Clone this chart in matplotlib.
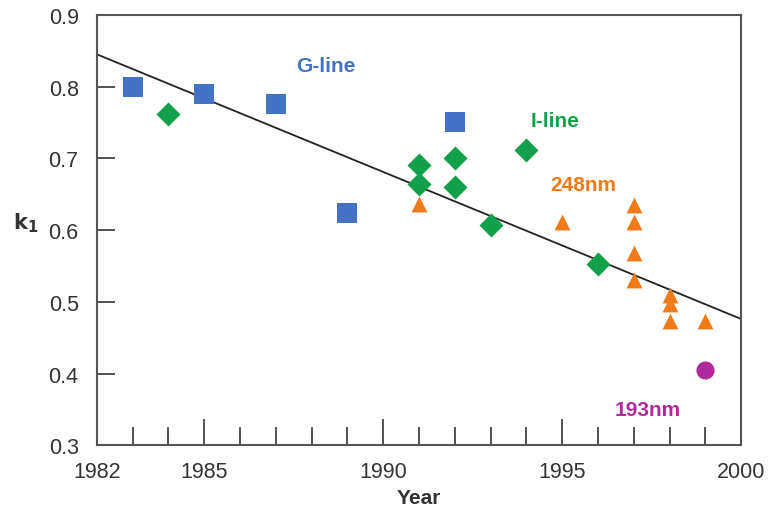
import numpy as np
import matplotlib
matplotlib.use("Agg")
import matplotlib.pyplot as plt
from matplotlib.ticker import MultipleLocator, FixedLocator, FormatStrFormatter

plt.rcParams['font.family'] = ['Liberation Sans', 'DejaVu Sans']

# data
gline_year = [1983, 1985, 1987, 1989, 1992]
gline_k1 = [0.800, 0.790, 0.776, 0.624, 0.751]

iline_year = [1984, 1991, 1991, 1992, 1992, 1993, 1994, 1996]
iline_k1 = [0.762, 0.690, 0.664, 0.701, 0.660, 0.607, 0.711, 0.552]

nm248_year = [1991, 1995, 1997, 1997, 1997, 1997, 1998, 1998, 1998, 1999]
nm248_k1 = [0.636, 0.611, 0.635, 0.611, 0.568, 0.530, 0.510, 0.497, 0.473, 0.473]

nm193_year = [1999]
nm193_k1 = [0.405]

trend_year = [1982, 2000]
trend_k1 = [0.845, 0.476]

blue = '#4472c4'
green = '#13a04a'
orange = '#f07a17'
magenta = '#b02a9e'

fig = plt.figure(figsize=(7.68, 5.10), dpi=100)
ax = fig.add_axes([0.126, 0.125, 0.839, 0.844])

ax.plot(trend_year, trend_k1, color='#222222', lw=1.3, zorder=2)
ax.scatter(gline_year, gline_k1, marker='s', s=190, color=blue, zorder=3, linewidths=0)
ax.scatter(iline_year, iline_k1, marker='D', s=150, color=green, zorder=3, linewidths=0)
ax.scatter(nm248_year, nm248_k1, marker='^', s=130, color=orange, zorder=3, linewidths=0)
ax.scatter(nm193_year, nm193_k1, marker='o', s=170, color=magenta, zorder=3, linewidths=0)

lab = dict(fontsize=15, fontweight='bold', ha='center', va='center')
ax.text(1988.4, 0.83, 'G-line', color=blue, **lab)
ax.text(1994.8, 0.753, 'I-line', color=green, **lab)
ax.text(1995.6, 0.663, '248nm', color=orange, **lab)
ax.text(1997.4, 0.35, '193nm', color=magenta, **lab)

ax.set_xlim(1982, 2000)
ax.set_ylim(0.3, 0.9)
ax.xaxis.set_major_locator(FixedLocator([1982, 1985, 1990, 1995, 2000]))
ax.xaxis.set_minor_locator(MultipleLocator(1))
ax.yaxis.set_major_locator(FixedLocator([0.3, 0.4, 0.5, 0.6, 0.7, 0.8, 0.9]))
ax.yaxis.set_major_formatter(FormatStrFormatter('%.1f'))

for s in ax.spines.values():
    s.set_color('#555555')
    s.set_linewidth(1.5)

ax.tick_params(axis='x', which='major', direction='in', length=19, width=1.2,
               color='#333333', labelsize=15.5, pad=11, labelcolor='#333333')
ax.tick_params(axis='x', which='minor', direction='in', length=13, width=1.2, color='#333333')
ax.tick_params(axis='y', which='major', direction='in', length=13, width=1.2,
               color='#333333', labelsize=15.5, pad=13, labelcolor='#333333')

ax.set_xlabel('Year', fontsize=15, fontweight='bold', color='#333333', labelpad=5)
ax.set_ylabel(r'$\mathbf{k_1}$', fontsize=15, rotation=0, color='#333333')
ax.yaxis.set_label_coords(-0.11, 0.49)

fig.savefig('out.png', dpi=100)
